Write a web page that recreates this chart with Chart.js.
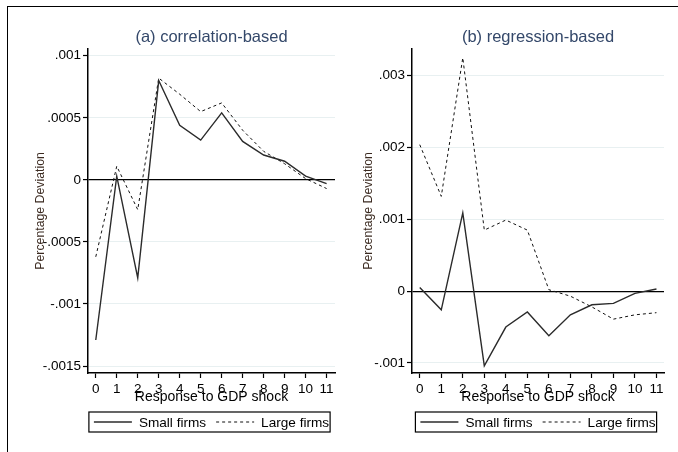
<!DOCTYPE html>
<html>
<head>
<meta charset="utf-8">
<script src="https://cdn.jsdelivr.net/npm/chart.js@4"></script>
<style>
  body { margin: 0; background: #fff; }
  #wrap { position: relative; width: 678px; height: 452px; overflow: hidden; }
  #frame { position: absolute; left: 7px; top: 6px; right: -5px; bottom: -5px;
           border-top: 1.5px solid #000; border-left: 1.5px solid #000; }
  canvas { position: absolute; top: 0; }
  #chartA { left: 0; }
  #chartB { left: 340px; }
</style>
</head>
<body>
<div id="wrap">
  <div id="frame"></div>
  <canvas id="chartA" width="340" height="452"></canvas>
  <canvas id="chartB" width="338" height="452"></canvas>
</div>
<script>
// horizons 0..11 after the GDP shock
var horizons = [0, 1, 2, 3, 4, 5, 6, 7, 8, 9, 10, 11]
var xTicks = [0, 1, 2, 3, 4, 5, 6, 7, 8, 9, 10, 11]

// (a) correlation-based
var smallA = [-0.00129, 0.00003, -0.00079, 0.00080, 0.00044, 0.00032, 0.00054, 0.00031, 0.00020, 0.00015, 0.00003, -0.00003]
var largeA = [-0.00062, 0.00011, -0.00024, 0.00082, 0.00069, 0.00055, 0.00062, 0.00040, 0.00023, 0.00013, 0.00001, -0.00007]
var yTicksA = [-0.0015, -0.001, -0.0005, 0, 0.0005, 0.001]
var yLabelsA = ["-.0015", "-.001", "-.0005", "0", ".0005", ".001"]

// (b) regression-based
var smallB = [0.00005, -0.00026, 0.00109, -0.00104, -0.00050, -0.00029, -0.00062, -0.00033, -0.00019, -0.00017, -0.00003, 0.00003]
var largeB = [0.00204, 0.00132, 0.00325, 0.00085, 0.00099, 0.00085, 0.00002, -0.00007, -0.00022, -0.00039, -0.00033, -0.00030]
var yTicksB = [-0.001, 0, 0.001, 0.002, 0.003]
var yLabelsB = ["-.001", "0", ".001", ".002", ".003"]

var seriesNames = ["Small firms", "Large firms"]

Chart.defaults.font.family = "'Liberation Sans', Arial, sans-serif"
Chart.defaults.color = '#000'

function points(vals) {
    var data = []
    for (var i = 0; i < horizons.length; i++) {
        data.push({ x: horizons[i], y: vals[i] })
    }
    return data
}

// Stata style legend: one row in a frame, centred under the plot
var boxedLegend = {
    id: 'boxedLegend',
    afterDraw: function (chart) {
        var ctx = chart.ctx
        var area = chart.chartArea
        var sets = chart.data.datasets
        var sample = 38, gap = 7, between = 10
        ctx.save()
        ctx.font = "13.6px 'Liberation Sans', Arial, sans-serif"
        var total = 0
        sets.forEach(function (ds, i) {
            total += sample + gap + ctx.measureText(ds.label).width + (i > 0 ? between : 0)
        })
        var x = (area.left + area.right) / 2 - total / 2
        var cy = 422
        ctx.strokeStyle = '#000'
        ctx.lineWidth = 1.2
        ctx.strokeRect(x - 5, cy - 10, total + 6, 20)
        sets.forEach(function (ds, i) {
            if (i > 0) x += between
            ctx.beginPath()
            ctx.setLineDash(ds.borderDash || [])
            ctx.strokeStyle = ds.borderColor
            ctx.lineWidth = ds.borderWidth
            ctx.moveTo(x, cy)
            ctx.lineTo(x + sample, cy)
            ctx.stroke()
            ctx.setLineDash([])
            x += sample + gap
            ctx.fillStyle = '#000'
            ctx.textBaseline = 'middle'
            ctx.fillText(ds.label, x, cy + 1)
            x += ctx.measureText(ds.label).width
        })
        ctx.restore()
    }
}

function makeChart(id, title, small, large, xMin, xMax, yMin, yMax, yTicks, yLabels, pad, yWidth) {
    var ctx = document.getElementById(id)
    return new Chart(ctx, {
        type: 'line',
        data: {
            datasets: [{
                label: seriesNames[0],
                data: points(small),
                borderColor: '#2b2b2b',
                backgroundColor: 'transparent',
                borderWidth: 1.4,
                pointRadius: 0
            },
            {
                label: seriesNames[1],
                data: points(large),
                borderColor: '#111',
                backgroundColor: 'transparent',
                borderWidth: 1,
                borderDash: [3, 3],
                pointRadius: 0
            }]
        },
        options: {
            responsive: false,
            animation: false,
            events: [],
            layout: { padding: pad },
            plugins: {
                title: {
                    display: true,
                    text: title,
                    fullSize: false,
                    color: '#34486a',
                    font: { size: 16.5, weight: 'normal' },
                    padding: { top: 9, bottom: 1 }
                },
                legend: { display: false },
                tooltip: { enabled: false }
            },
            scales: {
                x: {
                    type: 'linear',
                    min: xMin,
                    max: xMax,
                    afterBuildTicks: function (scale) {
                        scale.ticks = xTicks.map(function (v) { return { value: v } })
                    },
                    afterFit: function (scale) { scale.height = 32.4 },
                    ticks: { font: { size: 13.5 }, color: '#000', padding: 3, maxRotation: 0 },
                    grid: { drawOnChartArea: false, tickLength: 5, tickColor: '#000', tickWidth: 1.2 },
                    border: { color: '#000', width: 1.5 },
                    title: {
                        display: true,
                        text: 'Response to GDP shock',
                        color: '#000',
                        font: { size: 14 },
                        padding: 0
                    }
                },
                y: {
                    min: yMin,
                    max: yMax,
                    afterBuildTicks: function (scale) {
                        scale.ticks = yTicks.map(function (v) { return { value: v } })
                    },
                    afterFit: function (scale) { scale.width = yWidth },
                    ticks: {
                        font: { size: 13.5 },
                        color: '#000',
                        padding: 2,
                        callback: function (value, index) { return yLabels[index] }
                    },
                    grid: {
                        color: function (c) { return c.tick && c.tick.value === 0 ? '#000' : '#e8f0f1' },
                        lineWidth: function (c) { return c.tick && c.tick.value === 0 ? 1.2 : 1 },
                        tickLength: 5,
                        tickColor: '#000',
                        tickWidth: 1.2
                    },
                    border: { color: '#000', width: 1.5 },
                    title: {
                        display: true,
                        text: 'Percentage Deviation',
                        color: '#3b2a20',
                        font: { size: 12.3 },
                        padding: 0
                    }
                }
            }
        },
        plugins: [boxedLegend]
    })
}

window.addEventListener('load', function () {
    makeChart('chartA', '(a) correlation-based', smallA, largeA, -0.37, 11.4, -0.001556, 0.001056,
        yTicksA, yLabelsA, { left: 33, right: 5, top: 19, bottom: 46.6 }, 55)
    makeChart('chartB', '(b) regression-based', smallB, largeB, -0.36, 11.35, -0.00114, 0.003375,
        yTicksB, yLabelsB, { left: 21, right: 14, top: 19, bottom: 46.6 }, 51)
})
</script>
</body>
</html>
